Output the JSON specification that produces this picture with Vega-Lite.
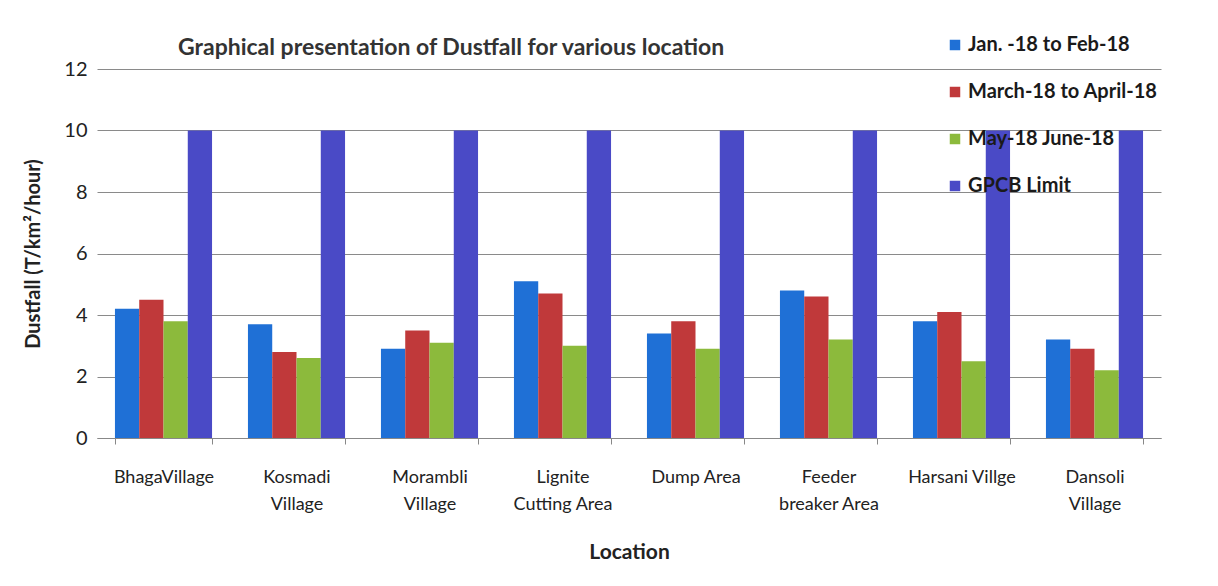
{
  "$schema": "https://vega.github.io/schema/vega-lite/v6.json",
  "autosize": {"type": "none"},
  "width": 1064,
  "height": 369,
  "padding": {"left": 97, "top": 69, "right": 57, "bottom": 148},
  "background": "white",
  "title": {
    "text": "Graphical presentation of  Dustfall for various location",
    "anchor": "start",
    "frame": "group",
    "dx": 81,
    "offset": -25,
    "font": "Lato",
    "fontSize": 23,
    "fontWeight": "bold",
    "color": "#333333"
  },
  "data": {
    "values": [
      {"location": "BhagaVillage", "period": "Jan. -18 to Feb-18", "value": 4.2},
      {"location": "BhagaVillage", "period": "March-18 to April-18", "value": 4.5},
      {"location": "BhagaVillage", "period": "May-18 June-18", "value": 3.8},
      {"location": "BhagaVillage", "period": "GPCB Limit", "value": 10},
      {"location": "Kosmadi Village", "period": "Jan. -18 to Feb-18", "value": 3.7},
      {"location": "Kosmadi Village", "period": "March-18 to April-18", "value": 2.8},
      {"location": "Kosmadi Village", "period": "May-18 June-18", "value": 2.6},
      {"location": "Kosmadi Village", "period": "GPCB Limit", "value": 10},
      {"location": "Morambli Village", "period": "Jan. -18 to Feb-18", "value": 2.9},
      {"location": "Morambli Village", "period": "March-18 to April-18", "value": 3.5},
      {"location": "Morambli Village", "period": "May-18 June-18", "value": 3.1},
      {"location": "Morambli Village", "period": "GPCB Limit", "value": 10},
      {"location": "Lignite Cutting Area", "period": "Jan. -18 to Feb-18", "value": 5.1},
      {"location": "Lignite Cutting Area", "period": "March-18 to April-18", "value": 4.7},
      {"location": "Lignite Cutting Area", "period": "May-18 June-18", "value": 3.0},
      {"location": "Lignite Cutting Area", "period": "GPCB Limit", "value": 10},
      {"location": "Dump Area", "period": "Jan. -18 to Feb-18", "value": 3.4},
      {"location": "Dump Area", "period": "March-18 to April-18", "value": 3.8},
      {"location": "Dump Area", "period": "May-18 June-18", "value": 2.9},
      {"location": "Dump Area", "period": "GPCB Limit", "value": 10},
      {"location": "Feeder breaker Area", "period": "Jan. -18 to Feb-18", "value": 4.8},
      {"location": "Feeder breaker Area", "period": "March-18 to April-18", "value": 4.6},
      {"location": "Feeder breaker Area", "period": "May-18 June-18", "value": 3.2},
      {"location": "Feeder breaker Area", "period": "GPCB Limit", "value": 10},
      {"location": "Harsani Villge", "period": "Jan. -18 to Feb-18", "value": 3.8},
      {"location": "Harsani Villge", "period": "March-18 to April-18", "value": 4.1},
      {"location": "Harsani Villge", "period": "May-18 June-18", "value": 2.5},
      {"location": "Harsani Villge", "period": "GPCB Limit", "value": 10},
      {"location": "Dansoli Village", "period": "Jan. -18 to Feb-18", "value": 3.2},
      {"location": "Dansoli Village", "period": "March-18 to April-18", "value": 2.9},
      {"location": "Dansoli Village", "period": "May-18 June-18", "value": 2.2},
      {"location": "Dansoli Village", "period": "GPCB Limit", "value": 10}
    ]
  },
  "mark": {"type": "bar"},
  "encoding": {
    "x": {
      "field": "location",
      "type": "nominal",
      "sort": null,
      "scale": {"paddingInner": 0.27, "paddingOuter": 0.135},
      "axis": {
        "orient": "bottom",
        "title": "Location",
        "titleFont": "Lato",
        "titleFontSize": 21,
        "titleFontWeight": "bold",
        "titleColor": "#222222",
        "titlePadding": 28,
        "labelAngle": 0,
        "labelFont": "Lato",
        "labelFontSize": 18,
        "labelColor": "#222222",
        "labelPadding": 24,
        "labelLineHeight": 27,
        "labelExpr": "datum.value == 'Kosmadi Village' ? ['Kosmadi', 'Village'] : datum.value == 'Morambli Village' ? ['Morambli', 'Village'] : datum.value == 'Lignite Cutting Area' ? ['Lignite', 'Cutting Area'] : datum.value == 'Feeder breaker Area' ? ['Feeder', 'breaker Area'] : datum.value == 'Dansoli Village' ? ['Dansoli', 'Village'] : datum.value",
        "ticks": true,
        "tickBand": "extent",
        "tickSize": 6,
        "tickColor": "#888888",
        "domain": true,
        "domainColor": "#888888",
        "grid": false
      }
    },
    "xOffset": {
      "field": "period",
      "type": "nominal",
      "scale": {"domain": ["Jan. -18 to Feb-18", "March-18 to April-18", "May-18 June-18", "GPCB Limit"], "paddingInner": 0, "paddingOuter": 0}
    },
    "y": {
      "field": "value",
      "type": "quantitative",
      "scale": {"domain": [0, 12]},
      "axis": {
        "title": "Dustfall (T/km²/hour)",
        "titleFont": "Lato",
        "titleFontSize": 20,
        "titleFontWeight": "bold",
        "titleColor": "#222222",
        "titlePadding": 20,
        "values": [0, 2, 4, 6, 8, 10, 12],
        "labelFont": "Lato",
        "labelFontSize": 20,
        "labelColor": "#222222",
        "labelPadding": 10,
        "ticks": false,
        "domain": false,
        "grid": true,
        "gridColor": "#8a8a8a",
        "gridWidth": 1
      }
    },
    "color": {
      "field": "period",
      "type": "nominal",
      "scale": {
        "domain": ["Jan. -18 to Feb-18", "March-18 to April-18", "May-18 June-18", "GPCB Limit"],
        "range": ["#1f70d6", "#c0393a", "#8cba3c", "#4a4ac6"]
      },
      "legend": {
        "title": null,
        "orient": "none",
        "legendX": 848,
        "legendY": -34,
        "symbolType": "square",
        "symbolSize": 110,
        "symbolStrokeWidth": 0,
        "labelFont": "Lato",
        "labelFontSize": 20,
        "labelFontWeight": "bold",
        "labelColor": "#1a1a1a",
        "labelLimit": 300,
        "labelOffset": 3,
        "rowPadding": 27
      }
    }
  },
  "config": {
    "view": {"stroke": null}
  }
}
